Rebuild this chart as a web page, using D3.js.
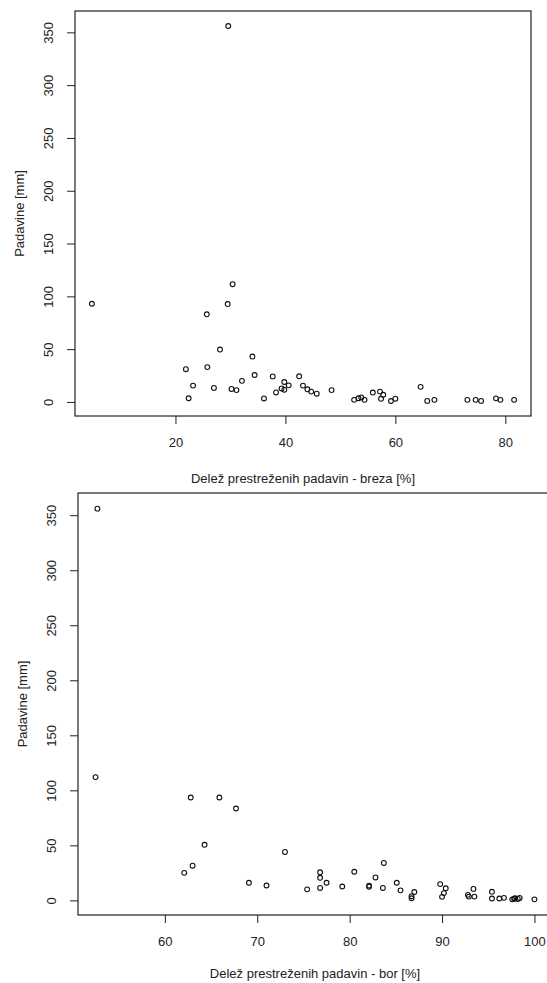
<!DOCTYPE html>
<html>
<head>
<meta charset="utf-8">
<script src="https://cdn.jsdelivr.net/npm/d3@7"></script>
<style>
  html, body { margin: 0; padding: 0; background: #fff; }
  svg { display: block; }
  text { font-family: "Liberation Sans", Arial, sans-serif; fill: #222; }
</style>
</head>
<body>
<div id="chart"></div>
<script>
// Delež prestreženih padavin - breza [%] vs padavine [mm]
const brezaX = [4.8, 21.9, 22.4, 23.2, 25.7, 25.8, 27.0, 28.1, 29.5, 29.6, 30.4, 30.2, 31.1, 32.1,
  34.0, 34.4, 36.1, 37.7, 38.3, 39.3, 39.8, 39.8, 40.6, 42.5, 43.2, 44.0, 44.7, 45.7, 48.4,
  52.5, 53.3, 53.8, 54.4, 55.9, 57.2, 57.8, 57.4, 59.2, 60.0, 64.6, 65.8, 67.1, 73.1, 74.6,
  75.6, 78.3, 79.1, 81.6];
const brezaY = [93, 31, 3.5, 15.5, 83, 33, 13.3, 49.6, 92.7, 356, 111.5, 12.3, 11.2, 20,
  43, 25.5, 3.3, 24.2, 9, 12.8, 18.9, 11.6, 15.7, 24.3, 15.5, 12, 9.8, 7.8, 11.2,
  2, 3.5, 4.3, 2, 8.9, 9.8, 6.8, 3, 0.9, 3.1, 14.3, 1, 2, 2, 2,
  1, 3.4, 2, 2];

// Delež prestreženih padavin - bor [%] vs padavine [mm]
const borX = [52.7, 52.5, 62.8, 65.9, 67.7, 64.3, 73.0, 62.1, 63.0, 69.1, 71.0, 75.4, 76.8, 76.8,
  76.8, 77.5, 79.2, 80.5, 82.1, 82.1, 82.8, 83.7, 83.6, 85.1, 85.5, 87.0, 86.7, 86.7, 89.8,
  90.4, 90.2, 90.0, 92.8, 92.9, 93.4, 93.5, 95.4, 95.4, 96.2, 96.7, 97.6, 97.9, 98.2, 98.4,
  97.8, 100.0];
const borY = [356, 112, 93.5, 93.5, 83.5, 50.5, 44, 25, 31.5, 16, 13.5, 10, 25.5, 20.5,
  11.3, 16, 12.6, 26, 13.4, 12.4, 20.8, 34, 11.3, 16, 9.1, 7.6, 3.8, 1.9, 14.8,
  11, 6.6, 3.2, 5, 3.4, 10.4, 3.4, 7.8, 1.7, 1.7, 2.3, 0.9, 1.9, 1.3, 2.2,
  1.5, 0.9];

const yTicks = [0, 50, 100, 150, 200, 250, 300, 350];
const brezaTicks = [20, 40, 60, 80];
const borTicks = [60, 70, 80, 90, 100];

const yLabel = 'Padavine [mm]';
const brezaLabel = 'Delež prestreženih padavin - breza [%]';
const borLabel = 'Delež prestreženih padavin - bor [%]';

const W = 547, H = 983;
const svg = d3.select('#chart').append('svg')
  .attr('width', W)
  .attr('height', H);
svg.append('rect').attr('width', W).attr('height', H).attr('fill', '#fff');

// R style range: data extent padded by 4% on each side
function padded(vals) {
  const [lo, hi] = d3.extent(vals);
  const p = (hi - lo) * 0.04;
  return [lo - p, hi + p];
}

function scatter(xs, ys, xTicks, xTitle, box, titleGap) {
  const x = d3.scaleLinear().domain(padded(xs)).range([box.left, box.right]);
  const y = d3.scaleLinear().domain(padded(ys)).range([box.bottom, box.top]);
  const g = svg.append('g');

  // Bottom axis
  const xa = g.append('g')
    .attr('transform', `translate(0,${box.bottom})`)
    .call(d3.axisBottom(x).tickValues(xTicks).tickSize(8).tickPadding(14).tickFormat(d3.format('d')));
  xa.select('.domain').remove();
  xa.selectAll('line').attr('stroke', '#222');
  xa.selectAll('text').attr('font-size', 13).attr('fill', '#222')
    .style('font-family', '"Liberation Sans", Arial, sans-serif');

  // Left axis, labels parallel to the axis like R
  const ya = g.append('g')
    .attr('transform', `translate(${box.left},0)`)
    .call(d3.axisLeft(y).tickValues(yTicks).tickSize(8).tickFormat(d3.format('d')));
  ya.select('.domain').remove();
  ya.selectAll('line').attr('stroke', '#222');
  ya.selectAll('text')
    .attr('font-size', 13).attr('fill', '#222')
    .style('font-family', '"Liberation Sans", Arial, sans-serif')
    .attr('text-anchor', 'middle')
    .attr('x', 0)
    .attr('y', -27)
    .attr('dy', '0.35em')
    .attr('transform', 'rotate(-90)');

  // Plot frame
  g.append('rect')
    .attr('x', box.left)
    .attr('y', box.top)
    .attr('width', box.right - box.left)
    .attr('height', box.bottom - box.top)
    .attr('fill', 'none')
    .attr('stroke', '#222')
    .attr('stroke-width', 1.2);

  // Points
  g.selectAll('circle.pt')
    .data(xs.map((v, i) => [v, ys[i]]))
    .join('circle')
    .attr('class', 'pt')
    .attr('cx', d => x(d[0]))
    .attr('cy', d => y(d[1]))
    .attr('r', 2.4)
    .attr('fill', 'none')
    .attr('stroke', '#111')
    .attr('stroke-width', 1.1);

  // Titles
  g.append('text')
    .attr('x', (box.left + box.right) / 2)
    .attr('y', box.bottom + titleGap)
    .attr('dy', '0.35em')
    .attr('text-anchor', 'middle')
    .attr('font-size', 13)
    .text(xTitle);

  const cy = (box.top + box.bottom) / 2;
  g.append('text')
    .attr('transform', `translate(${box.left - 56},${cy}) rotate(-90)`)
    .attr('dy', '0.35em')
    .attr('text-anchor', 'middle')
    .attr('font-size', 13)
    .text(yLabel);
}

scatter(brezaX, brezaY, brezaTicks, brezaLabel, { left: 75, right: 531, top: 11, bottom: 416 }, 62);
scatter(borX, borY, borTicks, borLabel, { left: 78, right: 552, top: 493, bottom: 915 }, 58);
</script>
</body>
</html>
